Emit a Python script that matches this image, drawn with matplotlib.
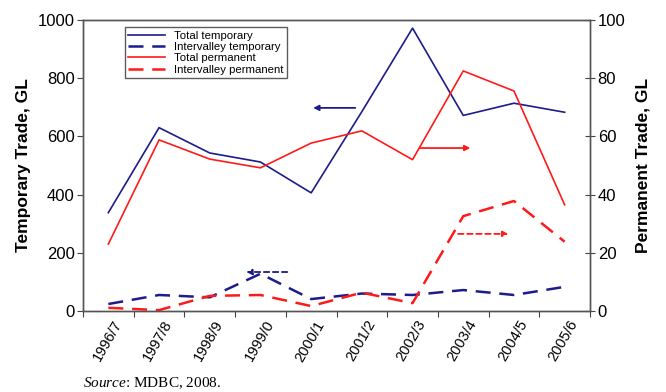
import matplotlib
matplotlib.use("Agg")
import matplotlib.pyplot as plt

plt.rcParams['font.family'] = ['Liberation Sans', 'DejaVu Sans']
plt.rcParams['mathtext.fontset'] = 'custom'
plt.rcParams['mathtext.rm'] = 'Liberation Serif'
plt.rcParams['mathtext.it'] = 'Liberation Serif:italic'

years = ["1996/7", "1997/8", "1998/9", "1999/0", "2000/1",
         "2001/2", "2002/3", "2003/4", "2004/5", "2005/6"]

# GL, left axis
total_temp = [338, 630, 543, 512, 406, 685, 972, 672, 714, 683]
inter_temp = [24, 55, 47, 128, 41, 60, 55, 72, 55, 83]
# GL, right axis
total_perm = [23.0, 58.8, 52.2, 49.2, 57.7, 61.9, 52.0, 82.5, 75.6, 36.5]
inter_perm = [1.1, 0.3, 5.2, 5.5, 1.7, 6.3, 2.7, 32.6, 37.8, 23.8]

blue = "#1c1c8a"
red = "#ff1a1a"

fig = plt.figure(figsize=(6.66, 3.92), dpi=100)
ax = fig.add_subplot(111)
fig.subplots_adjust(left=83/666, right=590/666, top=1-20/392, bottom=1-311/392)
ax2 = ax.twinx()

x = list(range(len(years)))
ax.plot(x, total_temp, color=blue, lw=1.2, label="Total temporary")
ax.plot(x, inter_temp, color=blue, lw=1.8, ls=(0, (6, 3.5)), label="Intervalley temporary")
ax2.plot(x, total_perm, color=red, lw=1.2, label="Total permanent")
ax2.plot(x, inter_perm, color=red, lw=1.8, ls=(0, (6, 3.5)), label="Intervalley permanent")

ax.set_xlim(-0.5, len(years) - 0.5)
ax.set_ylim(0, 1000)
ax2.set_ylim(0, 100)
ax.set_yticks([0, 200, 400, 600, 800, 1000])
ax2.set_yticks([0, 20, 40, 60, 80, 100])

ax.set_xticks([i + 0.5 for i in range(-1, len(years))], minor=False)
ax.set_xticklabels([])
ax.set_xticks([i + 0.08 for i in x], minor=True)
ax.set_xticklabels(years, minor=True, rotation=60, ha="right", va="top",
                   rotation_mode="anchor", fontsize=10.5)
ax.tick_params(axis="x", which="minor", length=0, pad=5)
ax.tick_params(axis="x", which="major", direction="out", length=4, color="#444444")
ax.tick_params(axis="y", direction="out", length=4, labelsize=12, color="#444444", pad=2)
ax2.tick_params(axis="y", direction="inout", length=7, labelsize=12, color="#444444", pad=2)

for a in (ax, ax2):
    for s in a.spines.values():
        s.set_color("#555555")
        s.set_linewidth(1.0)

ax.set_ylabel("Temporary Trade, GL", fontsize=12.5, fontweight="bold", labelpad=5)
ax2.set_ylabel("Permanent Trade, GL", fontsize=12.5, fontweight="bold", labelpad=7)

# arrows showing which axis each group belongs to
arr = dict(arrowstyle="-|>", mutation_scale=8, lw=1.3, shrinkA=0, shrinkB=0)
ax.annotate("", xy=(4.04, 698), xytext=(4.87, 698),
            arrowprops=dict(arr, color=blue))
ax.annotate("", xy=(7.14, 560), xytext=(6.15, 560),
            arrowprops=dict(arr, color=red))
ax.annotate("", xy=(2.72, 134), xytext=(3.53, 134),
            arrowprops=dict(arr, color=blue, ls=(0, (3, 2))))
ax.annotate("", xy=(7.89, 265), xytext=(6.9, 265),
            arrowprops=dict(arr, color=red, ls=(0, (3, 2))))

h1, l1 = ax.get_legend_handles_labels()
h2, l2 = ax2.get_legend_handles_labels()
leg = ax.legend(h1 + h2, l1 + l2, loc="upper left", bbox_to_anchor=(0.083, 0.975),
                fontsize=8.2, handlelength=3.2, labelspacing=0.12, borderpad=0.3,
                handletextpad=0.8, frameon=True, fancybox=False, borderaxespad=0)
leg.get_frame().set_edgecolor("#333333")
leg.get_frame().set_linewidth(1.0)

fig.text(83/666, 1 - 383/392, r"$\it{Source}$: MDBC, 2008.", fontsize=11,
         family="Liberation Serif", va="center", ha="left")

fig.savefig("out.png", dpi=100)
